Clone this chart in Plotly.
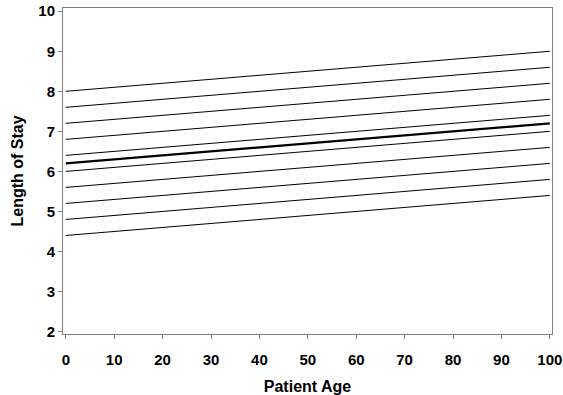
import plotly.graph_objects as go

ages = [0, 100]
start_los = [8.0, 7.6, 7.2, 6.8, 6.4, 6.2, 6.0, 5.6, 5.2, 4.8, 4.4]
end_los = [9.0, 8.6, 8.2, 7.8, 7.4, 7.2, 7.0, 6.6, 6.2, 5.8, 5.4]
widths = [1, 1, 1, 1, 1, 2.2, 1, 1, 1, 1, 1]
x_ticks = [0, 10, 20, 30, 40, 50, 60, 70, 80, 90, 100]
y_ticks = [2, 3, 4, 5, 6, 7, 8, 9, 10]

fig = go.Figure()
for s, e, w in zip(start_los, end_los, widths):
    fig.add_trace(go.Scatter(x=ages, y=[s, e], mode="lines",
                             line=dict(color="black", width=w),
                             showlegend=False, hoverinfo="skip"))

font_family = "Liberation Sans, Arial, sans-serif"
axis_color = "#808080"
fig.update_layout(
    width=563, height=395,
    margin=dict(l=63, r=11, t=8, b=61, autoexpand=False),
    paper_bgcolor="white", plot_bgcolor="white",
    font=dict(family=font_family, color="black"),
)
fig.update_xaxes(
    range=[-0.58, 100.45], tickvals=x_ticks,
    ticks="outside", ticklen=4, tickcolor=axis_color, tickwidth=1,
    showline=True, linecolor=axis_color, linewidth=1, mirror=True,
    showgrid=False, zeroline=False, automargin=False,
    ticklabeloverflow="allow", ticklabelstandoff=8,
    tickfont=dict(size=15, family=font_family, weight="bold"),
    title=dict(text="<b>Patient Age</b>", font=dict(size=16, family=font_family), standoff=14),
)
fig.update_yaxes(
    range=[1.94, 10.08], tickvals=y_ticks,
    ticks="outside", ticklen=4, tickcolor=axis_color, tickwidth=1,
    showline=True, linecolor=axis_color, linewidth=1, mirror=True,
    showgrid=False, zeroline=False, automargin=False,
    ticklabeloverflow="allow",
    tickfont=dict(size=15, family=font_family, weight="bold"),
    title=dict(text="<b>Length of Stay</b>", font=dict(size=16, family=font_family), standoff=10),
)
fig.write_html(
    "out.html",
    config={"displayModeBar": False},
    post_script="document.body.style.margin='0';document.body.style.overflow='hidden';",
)
